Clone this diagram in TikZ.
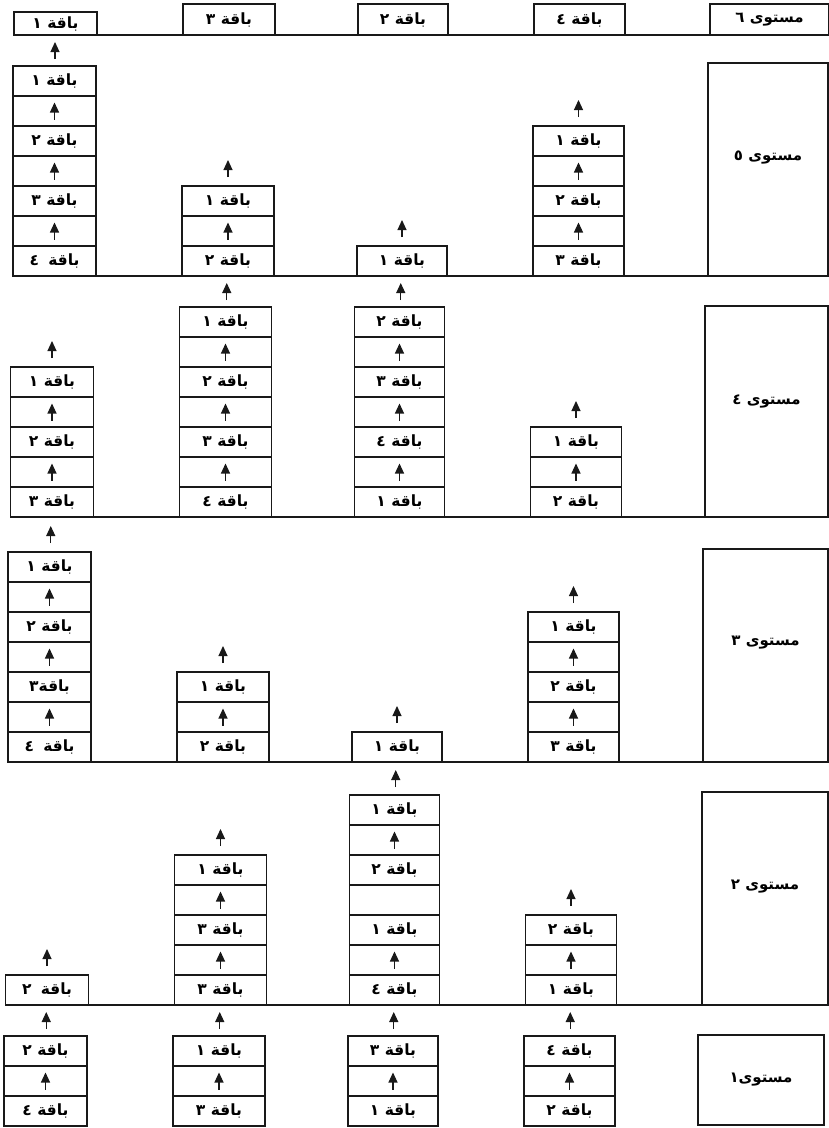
\documentclass[tikz,border=0pt]{standalone}
\usepackage{fontspec}
\usetikzlibrary{arrows.meta,calc}
\TeXXeTstate=1
\newfontfamily\arabicfont[Script=Arabic]{DejaVu Sans Bold}
\definecolor{ink}{gray}{0.1}
\newcommand\ardig[1]{\ifcase\numexpr#1-10*((#1-5)/10)\relax ٠\or ١\or ٢\or ٣\or ٤\or ٥\or ٦\fi}
\newcommand\cellcontent[1]{%
  \ifnum#1=0 \else\ifnum#1=9 \else
    \beginR باقة\ifnum#1=13 \else\ifnum#1>20 \hspace{0.6em}\else\space\fi\fi\ardig{#1}\endR
  \fi\fi}
\tikzset{
  cellbox/.style={draw=ink, line width=1.1pt, minimum height=30pt, inner sep=0pt, outer sep=0pt,
    font=\arabicfont\fontsize{15.5}{18}\selectfont},
  arr/.style={draw=ink, line width=1.1pt, -{Triangle[width=9pt,length=10pt]}},
  levelline/.style={draw=ink, line width=1.2pt},
  lvlbox/.style={draw=ink, line width=1.1pt, inner sep=0pt, outer sep=0pt},
  lvltext/.style={font=\arabicfont\fontsize{15}{18}\selectfont, inner sep=0pt}
}
% #1 name, #2 centre x, #3 bottom y, #4 width, #5 cells from bottom to top
\newcommand\stk[5]{%
  \foreach \cv [count=\ci from 0] in {#5}{%
    \node[cellbox, minimum width=#4pt] (#1-\ci) at (#2, #3-30*\ci-15) {\cellcontent{\cv}};
    \ifnum\cv=0 \draw[arr] ([yshift=-8.5pt]#1-\ci.center) -- ([yshift=8.5pt]#1-\ci.center);\fi
  }}
\newcommand\freearrow[1]{\draw[arr] ([yshift=9pt]#1.north) -- ([yshift=26pt]#1.north);}
\newcommand\gaparrow[2]{%
  \path ($(#1.north)!0.5!(#2.south)$) coordinate (gapmid);
  \draw[arr] ([yshift=-8.5pt]gapmid) -- ([yshift=8.5pt]gapmid);}
\begin{document}
\begin{tikzpicture}[x=1pt,y=-1pt]
\useasboundingbox[fill=white] (0,0) rectangle (829,1128);

% ---------- level 6 ----------
\node[cellbox, minimum width=83pt, minimum height=23pt] (t6c1) at (55.5,23.5) {\cellcontent{1}};
\node[cellbox, minimum width=92pt, minimum height=31pt] (t6c2) at (229,19.5) {\cellcontent{3}};
\node[cellbox, minimum width=90pt, minimum height=31pt] (t6c3) at (403,19.5) {\cellcontent{2}};
\node[cellbox, minimum width=91pt, minimum height=31pt] (t6c4) at (579.5,19.5) {\cellcontent{4}};
\node[lvlbox, minimum width=119pt, minimum height=31pt, font=\arabicfont\fontsize{15}{18}\selectfont] (lv6) at (769.5,19.5) {\beginR مستوى ٦\endR};
\draw[levelline] (t6c1.south west) -- (t6c1.south west -| lv6.south east);

% ---------- level boxes ----------
\node[lvlbox, minimum width=120pt, minimum height=213pt] (lv5) at (768,169.5) {};
\node[lvltext] (tx5) at ([yshift=12pt]lv5.center) {\beginR مستوى ٥\endR};
\node[lvlbox, minimum width=123pt, minimum height=211pt] (lv4) at (766.5,411.5) {};
\node[lvltext] (tx4) at ([yshift=10pt]lv4.center) {\beginR مستوى ٤\endR};
\node[lvlbox, minimum width=125pt, minimum height=213pt] (lv3) at (765.5,655.5) {};
\node[lvltext] (tx3) at ([yshift=13pt]lv3.center) {\beginR مستوى ٣\endR};
\node[lvlbox, minimum width=126pt, minimum height=213pt] (lv2) at (765,898.5) {};
\node[lvltext] (tx2) at ([yshift=12pt]lv2.center) {\beginR مستوى ٢\endR};
\node[lvlbox, minimum width=126pt, minimum height=90pt] (lv1) at (761,1080) {};
\node[lvltext] (tx1) at (lv1.center) {\beginR مستوى١\endR};

% ---------- level 5 ----------
\begin{scope}[xshift=4pt]
\stk{L5c1}{50.5}{276}{83}{24,0,3,0,2,0,1}
\stk{L5c2}{224}{276}{92}{2,0,1}
\stk{L5c3}{398}{276}{90}{1}
\stk{L5c4}{574.5}{276}{91}{3,0,2,0,1}
\end{scope}
\draw[levelline] (L5c1-0.south west) -- (L5c1-0.south west -| lv5.south east);
\gaparrow{L5c1-6}{t6c1}
\freearrow{L5c2-2}
\freearrow{L5c3-0}
\freearrow{L5c4-4}

% ---------- level 4 ----------
\begin{scope}[xshift=1.5pt]
\stk{L4c1}{50.5}{517}{83}{3,0,2,0,1}
\stk{L4c2}{224}{517}{92}{4,0,3,0,2,0,1}
\stk{L4c3}{398}{517}{90}{1,0,4,0,3,0,2}
\stk{L4c4}{574.5}{517}{91}{2,0,1}
\end{scope}
\draw[levelline] (L4c1-0.south west) -- (L4c1-0.south west -| lv4.south east);
\gaparrow{L4c2-6}{L5c2-0}
\gaparrow{L4c3-6}{L5c3-0}
\freearrow{L4c1-4}
\freearrow{L4c4-2}

% ---------- level 3 ----------
\begin{scope}[xshift=-1pt]
\stk{L3c1}{50.5}{762}{83}{24,0,13,0,2,0,1}
\stk{L3c2}{224}{762}{92}{2,0,1}
\stk{L3c3}{398}{762}{90}{1}
\stk{L3c4}{574.5}{762}{91}{3,0,2,0,1}
\end{scope}
\draw[levelline] (L3c1-0.south west) -- (L3c1-0.south west -| lv3.south east);
\gaparrow{L3c1-6}{L4c1-0}
\freearrow{L3c2-2}
\freearrow{L3c3-0}
\freearrow{L3c4-4}

% ---------- level 2 ----------
\begin{scope}[xshift=-3.5pt]
\stk{L2c1}{50.5}{1005}{83}{22}
\stk{L2c2}{224}{1005}{92}{3,0,3,0,1}
\stk{L2c3}{398}{1005}{90}{4,0,1,9,2,0,1}
\stk{L2c4}{574.5}{1005}{91}{1,0,2}
\end{scope}
\draw[levelline] (L2c1-0.south west) -- (L2c1-0.south west -| lv2.south east);
\gaparrow{L2c3-6}{L3c3-0}
\freearrow{L2c1-0}
\freearrow{L2c2-4}
\freearrow{L2c4-2}

% ---------- level 1 ----------
\begin{scope}[xshift=-5pt]
\stk{L1c1}{50.5}{1126}{83}{4,0,2}
\stk{L1c2}{224}{1126}{92}{3,0,1}
\stk{L1c3}{398}{1126}{90}{1,0,3}
\stk{L1c4}{574.5}{1126}{91}{2,0,4}
\end{scope}
\gaparrow{L1c1-2}{L2c1-0}
\gaparrow{L1c2-2}{L2c2-0}
\gaparrow{L1c3-2}{L2c3-0}
\gaparrow{L1c4-2}{L2c4-0}
\end{tikzpicture}
\end{document}
